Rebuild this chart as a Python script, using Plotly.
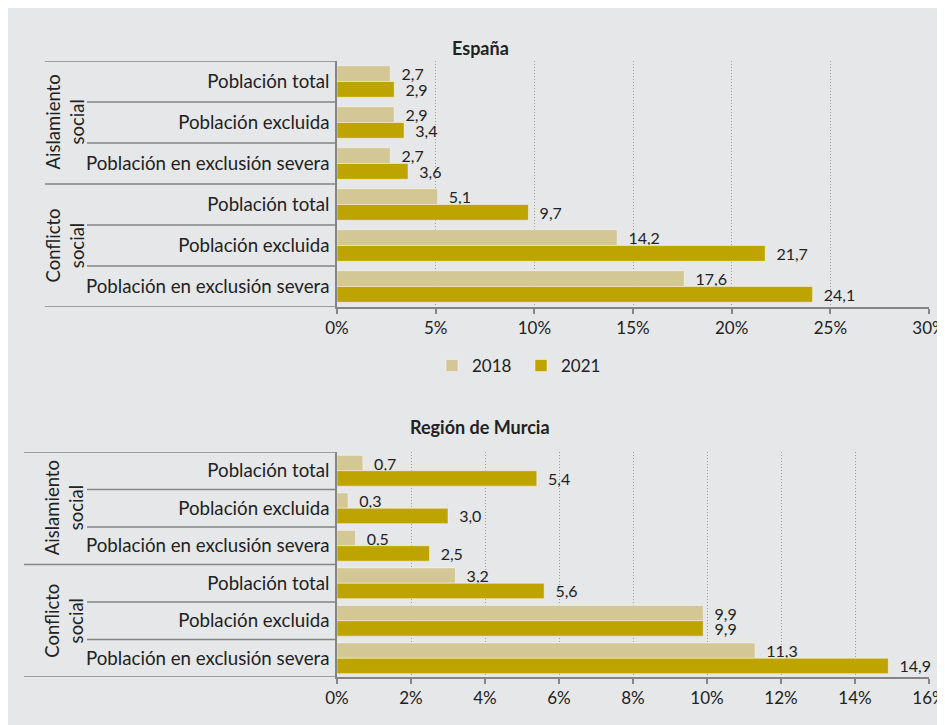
import plotly.graph_objects as go

# ── data ────────────────────────────────────────────────────────────────
ROWS = ["Población total", "Población excluida", "Población en exclusión severa"]
GROUPS = ["Aislamiento<br>social", "Conflicto<br>social"]
YEARS = ["2018", "2021"]

ESP_2018 = [2.7, 2.9, 2.7, 5.1, 14.2, 17.6]
ESP_2021 = [2.9, 3.4, 3.6, 9.7, 21.7, 24.1]
MUR_2018 = [0.7, 0.3, 0.5, 3.2, 9.9, 11.3]
MUR_2021 = [5.4, 3.0, 2.5, 5.6, 9.9, 14.9]

TITLES = ["España", "Región de Murcia"]

# ── style ───────────────────────────────────────────────────────────────
OFF = 8                      # page body margin of the browser
W, H = 945 - OFF, 725 - OFF
BG = "#e6e7e9"
C18 = "#d3c795"
C21 = "#bda400"
LINE = "#858585"
FONT = "Lato"
TXT = "#222222"


def px_x(x):
    return (x - OFF) / W


def px_y(y):
    return 1 - (y - OFF) / H


X0, X1 = px_x(337), px_x(929)

labels = ROWS * len(GROUPS)
pos = list(range(len(labels)))

fig = go.Figure()

panels = [
    dict(v18=ESP_2018, v21=ESP_2021, top=61, bottom=307,
         rng=30, dtick=5, w=0.385, glx=45, title=TITLES[0], ty=35, legend=True),
    dict(v18=MUR_2018, v21=MUR_2021, top=452, bottom=677,
         rng=16, dtick=2, w=0.41, glx=24, title=TITLES[1], ty=427, legend=False),
]


def fmt(v):
    return "\u00a0\u00a0" + f"{v:.1f}".replace(".", ",")


for i, p in enumerate(panels):
    sfx = "" if i == 0 else "2"
    xa, ya = "x" + sfx, "y" + sfx
    for year, vals, col, off in [(YEARS[0], p["v18"], C18, -p["w"]),
                                 (YEARS[1], p["v21"], C21, 0)]:
        fig.add_trace(go.Bar(
            x=vals, y=pos, orientation="h", name=year,
            marker=dict(color=col, line=dict(color="rgba(255,255,255,0.45)", width=1)),
            width=p["w"], offset=off,
            text=[fmt(v) for v in vals], textposition="outside",
            constraintext="none", cliponaxis=False,
            textfont=dict(size=16, color=TXT, family=FONT),
            xaxis=xa, yaxis=ya,
            showlegend=p["legend"], hoverinfo="skip",
        ))

    fig.update_layout({
        "xaxis" + sfx: dict(
            domain=[X0, X1], anchor=ya, range=[0, p["rng"]], dtick=p["dtick"],
            ticksuffix="%", showline=True, linecolor=LINE, linewidth=1.5,
            ticks="outside", ticklen=5, tickcolor=LINE, tickwidth=1.5,
            showgrid=True, gridcolor="#9a9a9a", griddash="1px,2px", gridwidth=1,
            zeroline=False, tickfont=dict(size=17, color=TXT, family=FONT),
            ticklabeloverflow="allow",
            automargin=False, fixedrange=True,
        ),
        "yaxis" + sfx: dict(
            domain=[px_y(p["bottom"]), px_y(p["top"])], anchor=xa,
            range=[len(labels) - 0.5, -0.5], tickvals=pos, ticktext=labels,
            showline=True, linecolor=LINE, linewidth=1.5, ticks="",
            showgrid=False, zeroline=False, ticklabelstandoff=2,
            tickfont=dict(size=18.7, color=TXT, family=FONT),
            automargin=False, fixedrange=True,
        ),
    })

    # separator lines between rows / groups
    for k in range(len(labels) + 1):
        outer = k % len(ROWS) == 0
        x_start = p["glx"] if outer else 87
        fig.add_shape(type="line", xref="paper", yref=ya,
                      x0=px_x(x_start), x1=X0, y0=k - 0.5, y1=k - 0.5,
                      line=dict(color=LINE, width=1.5))

    # group labels
    for g, name in enumerate(GROUPS):
        centre = g * len(ROWS) + (len(ROWS) - 1) / 2
        fig.add_annotation(text=name, xref="paper", yref=ya, x=px_x(64), y=centre,
                           xanchor="center", yanchor="middle",
                           textangle=-90, showarrow=False, align="center",
                           font=dict(size=18.5, color=TXT, family=FONT))

    fig.add_annotation(text="<b>" + p["title"] + "</b>", xref="paper", yref="paper",
                       x=px_x(480), y=px_y(p["ty"]), showarrow=False,
                       font=dict(size=18, color=TXT, family=FONT))

fig.update_layout(
    width=W, height=H, template="none",
    margin=dict(l=0, r=0, t=0, b=0),
    paper_bgcolor=BG, plot_bgcolor="rgba(0,0,0,0)",
    font=dict(family=FONT, color=TXT),
    barmode="overlay",
    legend=dict(orientation="h", x=px_x(432), y=px_y(366), xanchor="left", yanchor="middle",
                font=dict(size=17, color=TXT, family=FONT), bgcolor="rgba(0,0,0,0)",
                itemclick=False, itemdoubleclick=False, traceorder="normal",
                itemwidth=30, entrywidth=44),
    showlegend=True,
)

fig.write_html("out.html")
